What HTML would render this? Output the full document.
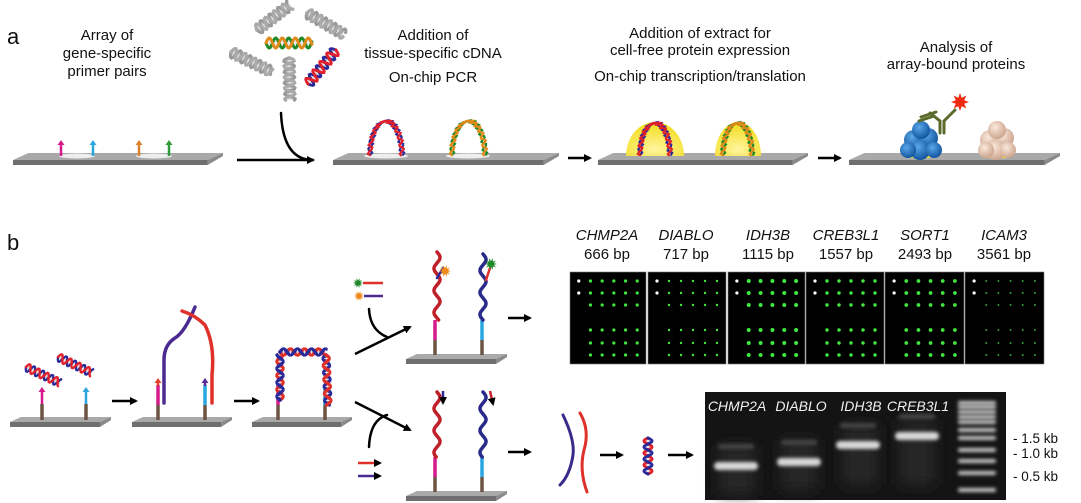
<!DOCTYPE html>
<html><head><meta charset="utf-8">
<style>
html,body{margin:0;padding:0;background:#fff;}
svg{display:block;font-family:"Liberation Sans",Arial,sans-serif;}
</style></head>
<body>
<svg id="s" width="1081" height="503" viewBox="0 0 1081 503" xmlns="http://www.w3.org/2000/svg">
<defs>
<marker id="ah" markerWidth="8" markerHeight="8" refX="6" refY="4" orient="auto" markerUnits="userSpaceOnUse"><path d="M0,0 L8,4 L0,8 z" fill="#000"/></marker>
<radialGradient id="yel" cx="50%" cy="80%" r="70%"><stop offset="0" stop-color="#fff59a"/><stop offset="1" stop-color="#f3dc1a"/></radialGradient>
<radialGradient id="blu" cx="40%" cy="35%" r="70%"><stop offset="0" stop-color="#5aa8e8"/><stop offset="1" stop-color="#0d4f9a"/></radialGradient>
<radialGradient id="tan" cx="40%" cy="35%" r="70%"><stop offset="0" stop-color="#fbe9dc"/><stop offset="1" stop-color="#c9a088"/></radialGradient>
<filter id="bl" x="-20%" y="-100%" width="140%" height="300%"><feGaussianBlur stdDeviation="1.8"/></filter>
<filter id="bl2" x="-50%" y="-50%" width="200%" height="200%"><feGaussianBlur stdDeviation="7"/></filter>
</defs>
<g font-size="15" fill="#111" text-anchor="middle">
<text x="7" y="44" font-size="22" text-anchor="start">a</text>
<text x="107" y="40">Array of</text><text x="107" y="58">gene-specific</text><text x="107" y="76">primer pairs</text>
<text x="433" y="40">Addition of</text><text x="433" y="58">tissue-specific cDNA</text><text x="433" y="82">On-chip PCR</text>
<text x="700" y="38">Addition of extract for</text><text x="700" y="55">cell-free protein expression</text><text x="700" y="81">On-chip transcription/translation</text>
<text x="956" y="52">Analysis of</text><text x="956" y="69">array-bound proteins</text>
<text x="7" y="250" font-size="22" text-anchor="start">b</text>
</g>
<g id="g"></g>
<g font-size="15" fill="#111" text-anchor="middle">
<g font-style="italic"><text x="607" y="240">CHMP2A</text><text x="686" y="240">DIABLO</text><text x="768" y="240">IDH3B</text><text x="846" y="240">CREB3L1</text><text x="925" y="240">SORT1</text><text x="1004" y="240">ICAM3</text></g>
<text x="607" y="259">666 bp</text><text x="686" y="259">717 bp</text><text x="768" y="259">1115 bp</text><text x="846" y="259">1557 bp</text><text x="925" y="259">2493 bp</text><text x="1004" y="259">3561 bp</text>
</g>
<g font-size="14" fill="#f0f0f0" text-anchor="middle" font-style="italic">
<text x="737" y="411">CHMP2A</text><text x="801" y="411">DIABLO</text><text x="861" y="411">IDH3B</text><text x="918" y="411">CREB3L1</text>
</g>
<g font-size="13.5" fill="#111">
<text x="1013" y="443">-  1.5 kb</text><text x="1013" y="458">-  1.0 kb</text><text x="1013" y="481">-  0.5 kb</text>
</g>
</svg>
<script>
var NS="http://www.w3.org/2000/svg",G=document.getElementById('g');
function el(t,a,p){var e=document.createElementNS(NS,t);for(var k in a)e.setAttribute(k,a[k]);(p||G).appendChild(e);return e;}
function slide(x0,x1,y,h){var d=h||7,sk=d*2.2;
 el('polygon',{points:(x0)+','+(y+d)+' '+(x0+sk)+','+y+' '+(x1)+','+y+' '+(x1-sk)+','+(y+d),fill:'#a9a9a9'});
 el('polygon',{points:x0+','+(y+d)+' '+(x1-sk)+','+(y+d)+' '+(x1-sk)+','+(y+d+5)+' '+x0+','+(y+d+5),fill:'#6f6f6f'});
 el('polygon',{points:(x1-sk)+','+(y+d)+' '+x1+','+y+' '+x1+','+(y+3)+' '+(x1-sk)+','+(y+d+5),fill:'#8a8a8a'});}
function arr(x1,y1,x2,y2,c,w){el('line',{x1:x1,y1:y1,x2:x2,y2:y2,stroke:c||'#000','stroke-width':w||2.5,'marker-end':'url(#ah)'});}
function pth(d,c,w,extra){var a={d:d,stroke:c,'stroke-width':w||3,fill:'none','stroke-linecap':'round'};for(var k in extra)a[k]=extra[k];return el('path',a);}
function helix(x0,y0,x1,y1,amp,per,c1,c2,w){var dx=x1-x0,dy=y1-y0,L=Math.hypot(dx,dy),ux=dx/L,uy=dy/L,nx=-uy,ny=ux;
 [[c1,0],[c2,Math.PI]].forEach(function(cc){var d='';for(var t=0;t<=L;t+=1){var o=amp*Math.sin(t/per*2*Math.PI+cc[1]);d+=(t?'L':'M')+(x0+ux*t+nx*o).toFixed(1)+','+(y0+uy*t+ny*o).toFixed(1);}pth(d,cc[0],w||2.5);});
 for(var t=per/4;t<L;t+=per/2){var cx=x0+ux*t,cy=y0+uy*t;el('line',{x1:cx+nx*amp*.6,y1:cy+ny*amp*.6,x2:cx-nx*amp*.6,y2:cy-ny*amp*.6,stroke:'#ddd','stroke-width':1});}}
function wavy(x,y0,y1,amp,per,c,w){var d='';for(var y=y0;y<=y1;y++){d+=(y==y0?'M':'L')+(x+amp*Math.sin((y-y0)/per*2*Math.PI)).toFixed(1)+','+y;}pth(d,c,w||3);}
function primer(x,y0,y1,c){el('line',{x1:x,y1:y1,x2:x,y2:y0+4,stroke:c,'stroke-width':2.5});el('polygon',{points:(x-3.5)+','+(y0+5)+' '+(x+3.5)+','+(y0+5)+' '+x+','+y0,fill:c});}
function star(cx,cy,r,c,n){var p='';n=n||10;for(var i=0;i<2*n;i++){var rr=i%2?r*0.5:r,a=i*Math.PI/n;p+=(cx+rr*Math.cos(a)).toFixed(1)+','+(cy+rr*Math.sin(a)).toFixed(1)+' ';}el('polygon',{points:p,fill:c});}
slide(13,223,153);slide(333,559,153);slide(598,808,153);slide(849,1060,153);
el('ellipse',{cx:77,cy:156,rx:18,ry:2.5,fill:'#eee'});el('ellipse',{cx:154,cy:156,rx:18,ry:2.5,fill:'#eee'});
primer(61,140,156,'#d61a8c');primer(93,140,156,'#29a6e0');primer(139,140,156,'#d9822b');primer(169,140,156,'#2f9a3a');
helix(257,30,290,5,5,11,'#999','#aaa',3.5);helix(307,13,345,35,5,11,'#999','#aaa',3.5);helix(231,52,272,72,5,11,'#999','#aaa',3.5);helix(289,58,290,100,5,11,'#999','#aaa',3.5);
helix(266,43,312,43,5,13,'#1e8a2a','#e08a1a',3);helix(308,84,336,50,5,11,'#2a2a9a','#e0202a',3);
pth('M281,113 Q283,160 313,160','#000',2.5);arr(237,160,313,160);
arr(568,158,590,158);arr(818,158,840,158);
function arch(x0,x1,c1,c2,h){var d1='',d2='',cx=(x0+x1)/2,hw=(x1-x0)/2;for(var i=0;i<=60;i++){var t=i/60*Math.PI,x=cx-hw*Math.cos(t),y=155-h*Math.sin(t),o=2.2*Math.sin(i*1.3);d1+=(i?'L':'M')+(x+o).toFixed(1)+','+(y-o*.3).toFixed(1);d2+=(i?'L':'M')+(x-o).toFixed(1)+','+(y+o*.3).toFixed(1);}pth(d1,c1,2.2);pth(d2,c2,2.2);}
el('ellipse',{cx:386,cy:156,rx:22,ry:2.5,fill:'#eee'});el('ellipse',{cx:468,cy:156,rx:22,ry:2.5,fill:'#eee'});
arch(370,402,'#2a2a9a','#e0202a',34);arch(452,485,'#1e8a2a','#e08a1a',34);
el('path',{d:'M626,156 A29,34 0 0 1 684,156 Z',fill:'url(#yel)',opacity:.95});el('path',{d:'M715,156 A23,34 0 0 1 761,156 Z',fill:'url(#yel)',opacity:.95});
arch(640,670,'#2a2a9a','#e0202a',32);arch(723,752,'#1e8a2a','#e08a1a',32);
el('ellipse',{cx:920,cy:156,rx:14,ry:2.5,fill:'#f3e030'});el('ellipse',{cx:997,cy:156,rx:14,ry:2.5,fill:'#f3e030'});
[[914,140,10],[928,138,10],[920,150,10],[908,150,8],[934,150,8],[921,130,9]].forEach(function(b){el('circle',{cx:b[0],cy:b[1],r:b[2],fill:'url(#blu)'});});
[[990,140,10],[1004,138,10],[996,150,10],[986,150,8],[1008,150,8],[997,130,9]].forEach(function(b){el('circle',{cx:b[0],cy:b[1],r:b[2],fill:'url(#tan)'});});
pth('M940,133 L940,121 L930,113','#5a6a2a',3);pth('M944,133 L944,121 L955,110','#5a6a2a',3);pth('M921,117 L936,112','#5a6a2a',3);pth('M919,121 L934,116','#5a6a2a',3);
star(960,102,9,'#f02a10',8);
slide(10,111,417,5);slide(132,232,417,5);slide(252,352,417,5);slide(406,507,354,5);slide(406,507,491,5);
function post2(x,ybase,c){el('line',{x1:x,y1:ybase-15,x2:x,y2:ybase,stroke:'#6b5444','stroke-width':3.5});el('line',{x1:x,y1:ybase-35,x2:x,y2:ybase-15,stroke:c,'stroke-width':3.5});}
primer(42,387,405,'#d61a8c');primer(86,387,405,'#29a6e0');
el('line',{x1:42,y1:404,x2:42,y2:420,stroke:'#6b5444','stroke-width':3.5});el('line',{x1:86,y1:404,x2:86,y2:420,stroke:'#6b5444','stroke-width':3.5});
helix(26,367,60,383,4,10,'#2a2a9a','#e0202a',2.5);helix(58,357,92,373,4,10,'#2a2a9a','#e0202a',2.5);
post2(158,420,'#d61a8c');post2(205,420,'#29a6e0');
primer(158,378,386,'#e0402a');primer(205,378,386,'#5a2a9a');
pth('M164,403 L164,360 Q164,345 175,338 Q185,332 195,307','#4a2a90',3.5);pth('M212,403 L212,375 Q215,345 205,325 Q195,315 182,311','#e0302a',3.5);
arr(112,401,136,401);arr(234,401,258,401);
post2(278,420,'#d61a8c');post2(325,420,'#29a6e0');
helix(280,400,280,355,3,14,'#e0302a','#2a2a9a',3.5);helix(280,352,326,352,3,14,'#e0302a','#2a2a9a',3.5);helix(326,355,328,405,3,14,'#2a2a9a','#e0302a',3.5);
arr(355,354,410,327);arr(355,402,410,430);
pth('M369,309 Q370,330 387,337','#000',2.5);pth('M369,447 Q370,420 387,415','#000',2.5);
star(358,283,5,'#1e8a2a');star(359,296,5,'#f08a1a');el('line',{x1:363,y1:283,x2:383,y2:283,stroke:'#e0302a','stroke-width':2.5});el('line',{x1:364,y1:296,x2:383,y2:296,stroke:'#4a2a90','stroke-width':2.5});
arr(358,463,380,463,'#e0302a',2.5);arr(358,476,380,476,'#4a2a90',2.5);
post2(435,355,'#d61a8c');post2(482,355,'#29a6e0');
wavy(437,252,320,3,22,'#c0202a',3.5);wavy(483,254,320,3,22,'#2a2a8a',3.5);
pth('M437,278 L443,268','#2a2a9a',2.5);star(445,271,6,'#f08a1a');pth('M486,280 L490,268','#e0302a',2.5);star(491,264,6,'#1e8a2a');
post2(435,492,'#d61a8c');post2(482,492,'#29a6e0');
wavy(437,392,457,3,22,'#c0202a',3.5);wavy(483,392,457,3,22,'#2a2a8a',3.5);
arr(443,391,443,403,'#2a2a9a',2.5);arr(490,391,493,404,'#d0202a',2.5);
arr(508,318,530,318);arr(508,452,530,452);
var P=[[570,646,1],[648,726,.7],[728,805,1.3],[806,884,1.1],[885,964,1.2],[965,1044,.5]];
P.forEach(function(p,i){el('rect',{x:p[0],y:272,width:p[1]-p[0],height:92,fill:'#000',stroke:'#777','stroke-width':.6});
 var cols=[9,21,33,45,57,69],rows=[281,293,305,330,343,355],r=1.3*p[2]+0.3;
 rows.forEach(function(y,ri){cols.forEach(function(cx,ci){var x=p[0]+cx*(p[1]-p[0])/78;if(ci==0){if(ri<2)el('circle',{cx:x,cy:y,r:1.6,fill:'#fff'});return;}
 el('circle',{cx:x,cy:y,r:r,fill:i==5?'#3aa83a':'#3ee83e'});});});});
pth('M563,415 Q575,440 573,455 Q570,475 560,485','#3a2a8a',3);pth('M580,413 Q590,430 584,450 Q579,470 587,492','#e0302a',3);
arr(600,455,622,455);helix(648,438,648,474,4,12,'#e0202a','#2a2a9a',3);arr(668,455,692,455);
el('rect',{x:705,y:392,width:301,height:108,fill:'#141414'});
[[737,445,50],[799,440,50],[860,425,60],[917,420,65]].forEach(function(h){el('rect',{x:h[0]-18,y:h[1],width:36,height:h[2],fill:'#262626',filter:'url(#bl2)'});});
[[736,466],[799,462],[858,445],[917,436]].forEach(function(b){el('rect',{x:b[0]-22,y:b[1]-4,width:44,height:8,rx:4,fill:'#d8d8d8',filter:'url(#bl)'});el('rect',{x:b[0]-18,y:b[1]-22,width:36,height:5,rx:2,fill:'#444',filter:'url(#bl)'});});
[403,407,412,417,422,430,438,450,461,473,490].forEach(function(y){el('rect',{x:958,y:y-2,width:38,height:4,rx:2,fill:'#c8c8c8',filter:'url(#bl)'});});
</script>
</body></html>
